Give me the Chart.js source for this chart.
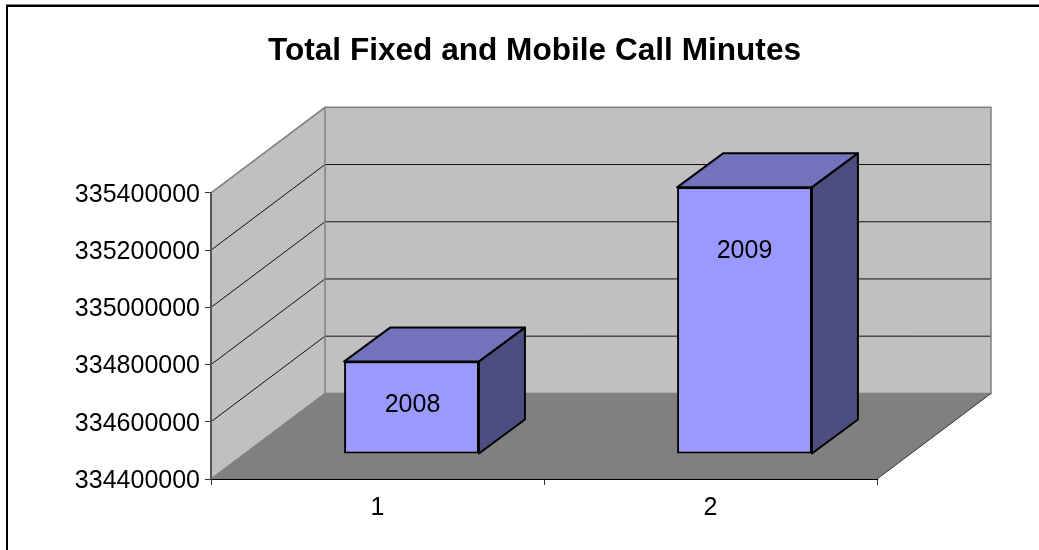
<!DOCTYPE html>
<html><head><meta charset="utf-8">
<style>html,body{margin:0;padding:0;background:#fff;overflow:hidden}#box{position:relative;width:1039px;height:550px}</style>
<script src="https://cdn.jsdelivr.net/npm/chart.js@4/dist/chart.umd.min.js"></script>
</head><body><div id="box"><canvas id="c"></canvas></div>
<script>
const categories = ['1', '2'];
const callMinutes = [334723000, 335332000];
const barLabels = ['2008', '2009'];
const chartTitle = 'Total Fixed and Mobile Call Minutes';
const axisMin = 334400000, axisMax = 335400000, axisStep = 200000;

const FONT = '"Liberation Sans", Arial, sans-serif';
const BACK = {dx: 114, dy: -85.6};    // wall depth
const NEAR = {dx: 34, dy: -25};       // bar front plane offset
const BAR = {dx: 46, dy: -34};        // bar depth
const LABEL_DROP = [44, 64];          // label centre below bar top face
const LABEL_SHIFT = [1, 0];

const poly = (ctx, pts, fill, stroke, lw) => {
  ctx.beginPath();
  pts.forEach((p, i) => i ? ctx.lineTo(p[0], p[1]) : ctx.moveTo(p[0], p[1]));
  ctx.closePath();
  if (fill) { ctx.fillStyle = fill; ctx.fill(); }
  if (stroke) { ctx.strokeStyle = stroke; ctx.lineWidth = lw; ctx.lineJoin = 'round'; ctx.stroke(); }
};

const scene = {
  id: 'scene',
  afterLayout(chart) {
    // let the value labels extend left of the narrow axis box without being clipped
    const y = chart.scales.y;
    y.left = 0;
  },
  beforeDraw(chart) {
    const {ctx, chartArea: a, scales: {y}} = chart;
    const {dx, dy} = BACK;
    ctx.save();
    // frame
    ctx.fillStyle = '#808080'; ctx.fillRect(6, 4, chart.width - 6, 1);
    ctx.fillStyle = '#000'; ctx.fillRect(6, 5, chart.width - 6, 2);
    ctx.fillRect(6, 5, 2, chart.height - 5);
    // walls and floor
    poly(ctx, [[a.left, a.top], [a.left + dx, a.top + dy], [a.left + dx, a.bottom + dy], [a.left, a.bottom]], '#C0C0C0');
    poly(ctx, [[a.left + dx, a.top + dy], [a.right + dx, a.top + dy], [a.right + dx, a.bottom + dy], [a.left + dx, a.bottom + dy]], '#C0C0C0');
    poly(ctx, [[a.left, a.bottom], [a.left + dx, a.bottom + dy], [a.right + dx, a.bottom + dy], [a.right, a.bottom]], '#808080');
    // gridlines
    ctx.strokeStyle = '#111'; ctx.lineWidth = 1;
    y.ticks.forEach(t => {
      if (t.value === axisMin || t.value === axisMax) return;
      const py = y.getPixelForValue(t.value);
      ctx.beginPath();
      ctx.moveTo(a.left, py); ctx.lineTo(a.left + dx, py + dy); ctx.lineTo(a.right + dx, py + dy);
      ctx.stroke();
    });
    // wall outlines
    ctx.strokeStyle = '#808080'; ctx.lineWidth = 1.5;
    ctx.beginPath();
    ctx.moveTo(a.left, a.top); ctx.lineTo(a.left + dx, a.top + dy); ctx.lineTo(a.right + dx, a.top + dy);
    ctx.lineTo(a.right + dx, a.bottom + dy); ctx.lineTo(a.left + dx, a.bottom + dy); ctx.lineTo(a.left, a.bottom);
    ctx.moveTo(a.left + dx, a.top + dy); ctx.lineTo(a.left + dx, a.bottom + dy);
    ctx.stroke();
    // right floor edge
    ctx.strokeStyle = '#333'; ctx.lineWidth = 1;
    ctx.beginPath(); ctx.moveTo(a.right, a.bottom); ctx.lineTo(a.right + dx, a.bottom + dy); ctx.stroke();
    ctx.restore();
  },
  beforeDatasetDraw(chart) {
    const {ctx} = chart;
    const meta = chart.getDatasetMeta(0);
    ctx.save();
    ctx.translate(NEAR.dx, NEAR.dy);
    meta.data.forEach(b => {
      const l = b.x - b.width / 2, r = b.x + b.width / 2, t = b.y, bt = b.base;
      poly(ctx, [[l, t], [l + BAR.dx, t + BAR.dy], [r + BAR.dx, t + BAR.dy], [r, t]], '#7373BD', '#000', 2);
      poly(ctx, [[r, t], [r + BAR.dx, t + BAR.dy], [r + BAR.dx, bt + BAR.dy], [r, bt]], '#4D4D80', '#000', 2);
    });
  },
  afterDatasetDraw(chart) {
    const {ctx} = chart;
    const meta = chart.getDatasetMeta(0);
    ctx.fillStyle = '#000';
    ctx.font = '25px ' + FONT;
    ctx.textAlign = 'center';
    ctx.textBaseline = 'middle';
    meta.data.forEach((b, i) => {
      ctx.fillText(barLabels[i], b.x + LABEL_SHIFT[i], b.y + LABEL_DROP[i]);
    });
    ctx.restore();
  },
  afterDraw(chart) {
    const {ctx, chartArea: a} = chart;
    ctx.save();
    ctx.strokeStyle = '#000'; ctx.lineWidth = 1;
    ctx.beginPath(); ctx.moveTo(a.left, a.bottom + .5); ctx.lineTo(a.right, a.bottom + .5); ctx.stroke();
    ctx.restore();
  }
};

Chart.defaults.font.family = FONT;
new Chart(document.getElementById('c'), {
  type: 'bar',
  plugins: [scene],
  data: {
    labels: categories,
    datasets: [{
      label: 'Total Fixed and Mobile Call Minutes',
      data: callMinutes,
      base: axisMin,
      backgroundColor: '#9999FF',
      borderColor: '#000',
      borderWidth: 2,
      borderSkipped: false,
      categoryPercentage: 0.405,
      barPercentage: 1,
      clip: false
    }]
  },
  options: {
    responsive: true,
    maintainAspectRatio: false,
    animation: false,
    events: [],
    layout: {padding: {left: 192, right: 162, top: 0, bottom: 0}},
    plugins: {
      legend: {display: false},
      tooltip: {enabled: false},
      title: {
        display: true,
        text: chartTitle,
        color: '#000',
        font: {size: 31.6, weight: 'bold', family: FONT},
        padding: {top: 32, bottom: 123}
      }
    },
    scales: {
      x: {
        afterFit(s) { s.height = 71; },
        grid: {drawOnChartArea: false, drawTicks: true, tickLength: 6, color: '#333', offset: true},
        border: {color: '#000', width: 1},
        ticks: {color: '#000', font: {size: 25, family: FONT}, padding: 8, maxRotation: 0}
      },
      y: {
        min: axisMin, max: axisMax,
        afterFit(s) { s.width = 19; },
        grid: {drawOnChartArea: false, drawTicks: true, tickLength: 6, color: '#333'},
        border: {color: '#555', width: 2},
        ticks: {stepSize: axisStep, color: '#000', font: {size: 25, family: FONT}, padding: 5,
          labelOffset: 2, callback: v => String(v)}
      }
    }
  }
});
</script></body></html>
